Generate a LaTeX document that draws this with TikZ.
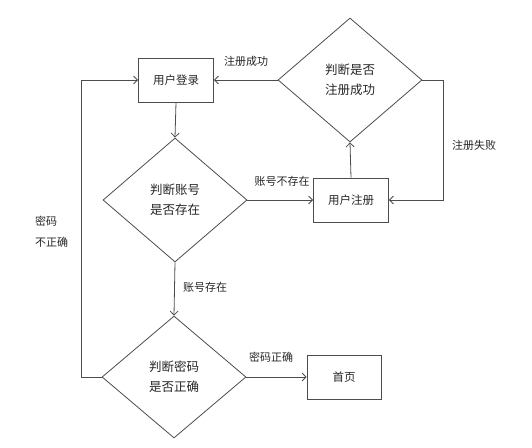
\documentclass[tikz,border=0pt]{standalone}
\usepackage{fontspec}
\setmainfont{Noto Sans CJK SC}
\usetikzlibrary{shapes.geometric,arrows.meta}
\begin{document}
\begin{tikzpicture}[x=1pt,y=-1pt,
  line/.style={draw=black!70,line width=0.8pt},
  arr/.style={line,-{Straight Barb[length=4pt,width=8pt]}},
  box/.style={line,rectangle,minimum width=75pt,minimum height=44pt,inner sep=0pt,font=\fontsize{11.5}{14}\selectfont,text=black!85},
  dia/.style={line,diamond,minimum width=144pt,minimum height=124pt,inner sep=0pt,align=center,font=\fontsize{12.5}{20}\selectfont,text=black!85},
  lab/.style={font=\fontsize{11}{21}\selectfont,text=black!85,inner sep=0pt}]
\useasboundingbox (0,0) rectangle (532,447);
\node[box] (login) at (176,80) {用户登录};
\node[box] (reg) at (351,200) {用户注册};
\node[box,minimum width=74pt] (home) at (344,377) {首页};
\node[dia] (d3) at (350,80) {判断是否\\注册成功};
\node[dia] (d1) at (175,200) {判断账号\\是否存在};
\node[dia,minimum height=122pt] (d2) at (174,377) {判断密码\\是否正确};
\coordinate (rc) at (443,80);
\coordinate (lc) at (81,377);
\draw[arr] (login.south) -- (d1.north);
\draw[arr] (d1.east) -- (reg.west);
\draw[arr] (reg.north) -- (d3.south);
\draw[arr] (d3.west) -- (login.east);
\draw[arr] (d3.east) -- (rc) |- (reg.east);
\draw[arr] (d1.south) -- (d2.north);
\draw[arr] (d2.east) -- (home.west);
\draw[arr] (d2.west) -- (lc) |- (login.west);
\node[lab] (l1) at (246,61) {注册成功};
\node[lab] (l2) at (474,145) {注册失败};
\node[lab] (l3) at (282,181) {账号不存在};
\node[lab] (l4) at (205,287) {账号存在};
\node[lab] (l5) at (271,357) {密码正确};
\node[lab,anchor=west,align=left] (l6) at (35,232) {密码\\不正确};
\end{tikzpicture}
\end{document}
